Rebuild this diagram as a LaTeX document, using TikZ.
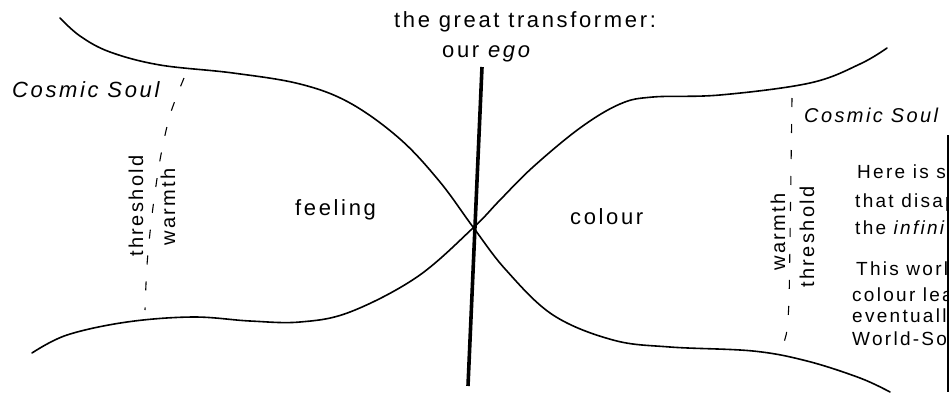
\documentclass[tikz,border=0pt]{standalone}
\usepackage{fontspec}
\setmainfont{Liberation Sans}[LetterSpace=12]
\begin{document}
\begin{tikzpicture}[x=1pt,y=-1pt,
  curve/.style={line width=1.6pt, line cap=round},
  ego/.style={line width=3.6pt},
  thr/.style={line width=1.1pt, dash pattern=on 9pt off 17pt},
  lab/.style={font=\fontsize{20}{22}\selectfont, inner sep=0pt},
  big/.style={font=\fontsize{22}{24}\selectfont, inner sep=0pt, anchor=base west},
  small/.style={font=\fontsize{19}{21}\selectfont, inner sep=0pt, anchor=base west},
  vlab/.style={lab, rotate=90}]
\useasboundingbox (0,0) rectangle (951,392);
% wave curves
\draw[curve] plot[smooth, tension=0.6] coordinates {(60,18) (80,36) (110,52) (160,65) (233,73) (300,84) (350,103) (400,139) (440,182) (473,227) (506,270) (553,315) (613,340) (670,347) (753,351) (807,361) (860,378) (890,392)};
\draw[curve] plot[smooth, tension=0.6] coordinates {(32,353) (67,335) (127,322) (193,317) (250,321) (300,322) (350,312) (417,277) (473,228) (500,200) (533,167) (580,128) (620,104) (653,97) (720,95) (810,83) (860,64) (887,48)};
% ego line
\coordinate (egotop) at (482,67);
\coordinate (egobot) at (468,386);
\draw[ego] (egotop) -- (egobot);
% thresholds
\draw[thr] plot[smooth] coordinates {(184,78) (170,115) (160,160) (152,215) (147,265) (145,310)};
\draw[thr] plot[smooth] coordinates {(792,98) (791,170) (790,240) (789,300) (787,330) (784,342)};
% labels
\node[big] (title) at (394,27) {the great transformer:};
\node[big] (ouregonode) at (442,57) {our \textit{ego}};
\node[big] (feel) at (295,215) {feeling};
\node[big] (col) at (570,224) {colour};
\node[big] (csl) at (12,97) {\textit{Cosmic Soul}};
\node[lab, anchor=base west] (csr) at (804,122) {\textit{Cosmic Soul}};
\node[vlab] (thl) at (136,206) {threshold};
\node[vlab] (wal) at (168,207) {warmth};
\node[vlab] (war) at (778,232) {warmth};
\node[vlab] (thr) at (807,237) {threshold};
% right text block, cut by the page edge
\begin{scope}
\clip (840,130) rectangle (947,392);
\node[small] (t1) at (857,178) {Here is so};
\node[small] (t2) at (855,207) {that disap};
\node[small] (t3) at (855,234) {the \textit{infini}};
\node[small] (t4) at (856,275) {This worl};
\node[small] (t5) at (852,301) {colour lea};
\node[small] (t6) at (852,322) {eventually};
\node[small] (t7) at (852,345) {World-Sou};
\end{scope}
\coordinate (edgetop) at (948,135);
\coordinate (edgebot) at (948,392);
\draw[line width=1.8pt] (edgetop) -- (edgebot);
\end{tikzpicture}
\end{document}
